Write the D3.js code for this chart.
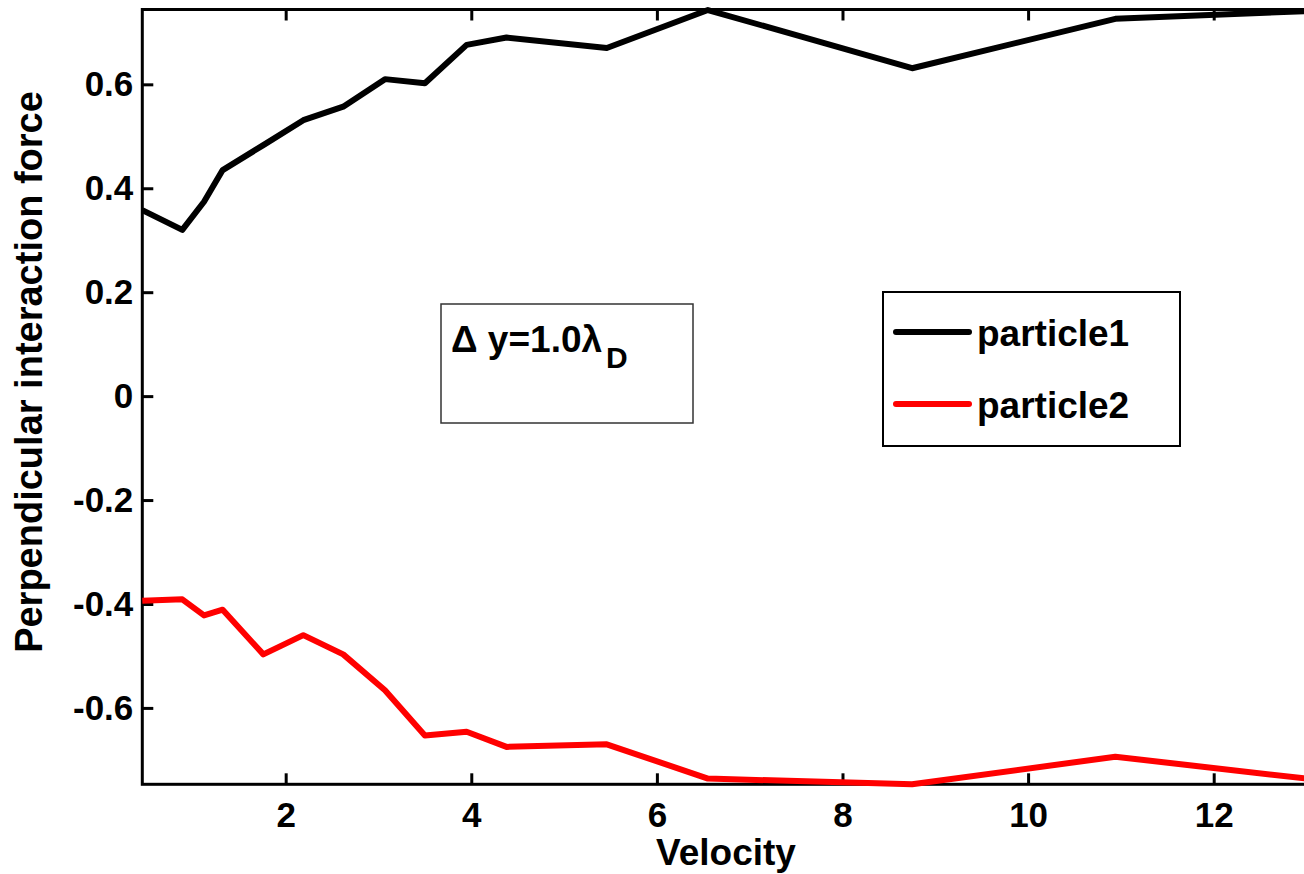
<!DOCTYPE html>
<html>
<head>
<meta charset="utf-8">
<script src="https://cdn.jsdelivr.net/npm/d3@7"></script>
<style>
  html, body { margin: 0; padding: 0; background: #fff; }
  svg { display: block; }
  text { font-family: "Liberation Sans", Arial, sans-serif; font-weight: bold; fill: #000; }
</style>
</head>
<body>
<svg id="chart" width="1304" height="874"></svg>
<script>
// Velocity samples shared by both particles
const velocity = [0.455, 0.886, 1.12, 1.321, 1.759, 2.19, 2.62, 3.07, 3.50, 3.95, 4.38, 5.46, 6.55, 8.75, 10.94, 13.0];
// Perpendicular interaction force on each particle
const particle1 = [0.358, 0.320, 0.374, 0.435, 0.483, 0.531, 0.557, 0.610, 0.602, 0.676, 0.690, 0.670, 0.743, 0.631, 0.726, 0.741];
const particle2 = [-0.394, -0.391, -0.422, -0.411, -0.497, -0.460, -0.497, -0.566, -0.653, -0.646, -0.675, -0.670, -0.736, -0.747, -0.694, -0.736];
const seriesNames = ["particle1", "particle2"];
const seriesColors = ["#000000", "#ff0000"];
const xTicks = [2, 4, 6, 8, 10, 12];
const yTicks = [-0.6, -0.4, -0.2, 0, 0.2, 0.4, 0.6];
const xLabel = "Velocity";
const yLabel = "Perpendicular interaction force";

const svg = d3.select("#chart");
const plotLeft = 142.3, plotRight = 1306.5, plotTop = 9.5, plotBottom = 784.3;

const x = d3.scaleLinear().domain([0.455, 13.0]).range([plotLeft, plotRight]);
const y = d3.scaleLinear().domain([-0.747, 0.744]).range([plotBottom, plotTop]);

const tickLen = 11;

// Axes with inward ticks; tick labels use a plain hyphen for negatives
const fmtY = d => (d === 0 ? "0" : d.toFixed(1));
const gx = svg.append("g").attr("transform", `translate(0,${plotBottom})`)
  .call(d3.axisBottom(x).tickValues(xTicks).tickSize(-tickLen).tickPadding(18).tickFormat(d => String(d)));
const gxTop = svg.append("g").attr("transform", `translate(0,${plotTop})`)
  .call(d3.axisTop(x).tickValues(xTicks).tickSize(-tickLen).tickFormat(""));
const gy = svg.append("g").attr("transform", `translate(${plotLeft},0)`)
  .call(d3.axisLeft(y).tickValues(yTicks).tickSize(-tickLen).tickPadding(9).tickFormat(fmtY));

[gx, gxTop, gy].forEach(g => {
  g.select(".domain").remove();
  g.selectAll(".tick line").attr("stroke", "#000").attr("stroke-width", 3);
  g.selectAll(".tick text").style("font-size", "35px").attr("fill", "#000");
});
gx.selectAll(".tick text").attr("dy", "0.71em");

// Plot frame
svg.append("rect")
  .attr("x", plotLeft).attr("y", plotTop)
  .attr("width", plotRight - plotLeft).attr("height", plotBottom - plotTop)
  .attr("fill", "none").attr("stroke", "#000").attr("stroke-width", 3);

// Series lines
const line = d3.line().x((d, i) => x(velocity[i])).y(d => y(d));
[particle1, particle2].forEach((vals, k) => {
  svg.append("path")
    .datum(vals)
    .attr("d", line)
    .attr("fill", "none")
    .attr("stroke", seriesColors[k])
    .attr("stroke-width", 6)
    .attr("stroke-linejoin", "round");
});

// Axis titles
svg.append("text")
  .attr("x", 726).attr("y", 865)
  .attr("text-anchor", "middle")
  .style("font-size", "37px")
  .text(xLabel);

svg.append("text")
  .attr("transform", `translate(42,372) rotate(-90)`)
  .attr("text-anchor", "middle")
  .style("font-size", "38px")
  .text(yLabel);

// Annotation box
svg.append("rect")
  .attr("x", 441).attr("y", 304).attr("width", 252).attr("height", 119)
  .attr("fill", "#fff").attr("stroke", "#333").attr("stroke-width", 1.5);
const ann = svg.append("text").attr("x", 451).attr("y", 352).style("font-size", "37px");
ann.append("tspan").text("\u0394 y=1.0\u03bb");
ann.append("tspan").attr("dx", 4).attr("dy", 16).style("font-size", "30px").text("D");

// Legend
svg.append("rect")
  .attr("x", 883).attr("y", 292).attr("width", 297).attr("height", 154)
  .attr("fill", "#fff").attr("stroke", "#000").attr("stroke-width", 2);
const legendY = [332, 404];
seriesNames.forEach((name, k) => {
  svg.append("line")
    .attr("x1", 896).attr("x2", 969)
    .attr("y1", legendY[k]).attr("y2", legendY[k])
    .attr("stroke", seriesColors[k]).attr("stroke-width", 6)
    .attr("stroke-linecap", "round");
  svg.append("text")
    .attr("x", 977).attr("y", legendY[k] + 14)
    .style("font-size", "37px")
    .text(name);
});
</script>
</body>
</html>
